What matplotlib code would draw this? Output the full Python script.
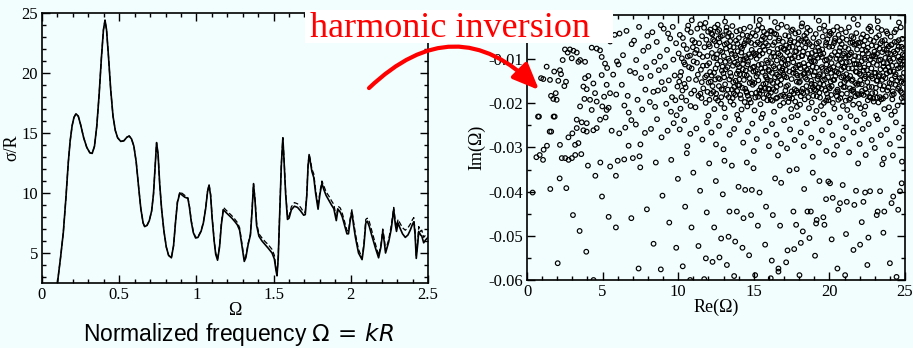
import matplotlib
matplotlib.use("Agg")
import matplotlib.pyplot as plt
from matplotlib.ticker import MultipleLocator, FuncFormatter
from matplotlib.patches import FancyArrowPatch, Rectangle

plt.rcParams["axes.unicode_minus"] = False
plt.rcParams["mathtext.fontset"] = "dejavusans"

BG = "#f2fdfd"
SERIF = "Liberation Serif"

# ---- cross section sigma/R versus normalized frequency ----
omega = [0.1, 0.12, 0.138, 0.155, 0.17, 0.182, 0.195, 0.207, 0.22, 0.235, 0.25, 0.27, 0.29,
         0.31, 0.325, 0.34, 0.355, 0.37, 0.385, 0.398, 0.408, 0.418, 0.43, 0.445, 0.46,
         0.475, 0.49, 0.51, 0.53, 0.55, 0.565, 0.58, 0.595, 0.61, 0.625, 0.64, 0.655, 0.665,
         0.68, 0.695, 0.71, 0.722, 0.732, 0.742, 0.752, 0.762, 0.775, 0.79, 0.805, 0.82,
         0.838, 0.852, 0.865, 0.877, 0.893, 0.91, 0.925, 0.945, 0.955, 0.967, 0.98, 0.995,
         1.01, 1.03, 1.045, 1.06, 1.072, 1.082, 1.092, 1.102, 1.115, 1.125, 1.137, 1.15,
         1.162, 1.175, 1.19, 1.21, 1.23, 1.25, 1.265, 1.28, 1.295, 1.31, 1.32, 1.335, 1.35,
         1.36, 1.37, 1.38, 1.39, 1.405, 1.425, 1.445, 1.465, 1.49, 1.505, 1.515, 1.522, 1.53,
         1.54, 1.55, 1.56, 1.568, 1.578, 1.59, 1.6, 1.615, 1.635, 1.655, 1.675, 1.695, 1.705,
         1.715, 1.723, 1.73, 1.738, 1.748, 1.76, 1.772, 1.788, 1.8, 1.813, 1.825, 1.84, 1.86,
         1.875, 1.89, 1.906, 1.917, 1.932, 1.945, 1.96, 1.975, 1.985, 1.995, 2.007, 2.017,
         2.03, 2.05, 2.073, 2.085, 2.097, 2.107, 2.12, 2.135, 2.16, 2.18, 2.195, 2.207, 2.217,
         2.225, 2.245, 2.262, 2.278, 2.288, 2.296, 2.306, 2.318, 2.335, 2.353, 2.37, 2.385,
         2.398, 2.408, 2.416, 2.424, 2.433, 2.44, 2.452, 2.46, 2.472, 2.485, 2.5]

sigma_exact = [2.5, 4.6, 6.7, 9.6, 12.5, 14.3, 15.6, 16.3, 16.6, 16.4, 15.7, 14.6, 13.8,
               13.35, 13.3, 13.9, 15.6, 18.2, 21.3, 23.6, 24.4, 23.6, 21.5, 18.6, 16.4,
               15.2, 14.6, 14.3, 14.35, 14.65, 14.75, 14.5, 13.9, 12.6, 10.6, 8.7, 7.5, 7.2,
               7.3, 7.7, 8.5, 9.9, 12.0, 14.2, 13.2, 10.8, 8.6, 6.8, 5.5, 4.8,
               4.6, 5.6, 7.6, 9.2, 10.0, 9.8, 9.65, 9.55, 8.8, 7.6, 6.7, 6.25,
               6.3, 6.8, 7.5, 8.7, 10.1, 10.65, 9.8, 7.9, 6.0, 4.9, 4.4, 5.5,
               7.4, 8.6, 8.4, 8.15, 7.9, 7.6, 7.35, 6.9, 5.6, 4.3, 4.6, 5.7, 6.5,
               8.4, 10.75, 9.3, 7.3, 6.4, 6.0, 5.7, 5.4, 5.0, 4.5, 3.6, 3.1, 4.6,
               8.4, 12.3, 14.6, 12.6, 9.9, 7.8, 7.9, 8.6, 8.9, 8.8, 8.5, 8.15, 8.2,
               9.8, 12.2, 13.2, 12.6, 11.8, 11.3, 10.0, 8.65, 9.9, 10.8, 10.3, 9.8, 9.35,
               9.0, 8.7, 7.7, 8.65, 8.4, 8.0, 7.3, 6.6, 6.6, 7.6, 8.45, 7.4,
               6.3, 5.0, 4.45, 5.6, 7.5, 7.65, 7.2, 6.5, 5.4, 4.6, 5.5, 6.8, 5.9,
               5.0, 5.9, 7.0, 8.65, 7.4, 6.8, 7.5, 7.1, 6.6, 6.3, 6.5, 6.9,
               7.35, 7.6, 6.6, 4.55, 5.7, 6.8, 6.5, 6.4, 5.85, 6.1, 6.3]

sigma_approx = [2.5, 4.6, 6.7, 9.6, 12.5, 14.3, 15.6, 16.3, 16.6, 16.4, 15.7, 14.6, 13.8,
                13.35, 13.3, 13.9, 15.6, 18.2, 21.3, 23.6, 24.4, 23.6, 21.5, 18.6, 16.4,
                15.2, 14.6, 14.3, 14.35, 14.65, 14.75, 14.5, 13.9, 12.6, 10.6, 8.7, 7.5, 7.2,
                7.3, 7.7, 8.5, 9.9, 12.0, 14.2, 13.2, 10.8, 8.6, 6.8, 5.5, 4.8,
                4.6, 5.6, 7.6, 9.3, 10.1, 9.95, 9.8, 9.6, 8.9, 7.7, 6.8, 6.3,
                6.35, 6.85, 7.55, 8.75, 10.15, 10.7, 9.9, 8.0, 6.1, 5.0, 4.5, 5.6,
                7.6, 8.8, 8.6, 8.35, 8.1, 7.8, 7.55, 7.1, 5.8, 4.4, 4.7, 5.8, 6.6,
                8.5, 10.8, 9.5, 7.5, 6.6, 6.25, 5.95, 5.7, 5.3, 4.8, 3.8, 3.2, 4.7,
                8.5, 12.4, 14.6, 12.8, 10.1, 8.0, 8.1, 8.85, 9.2, 9.1, 8.8, 8.4, 8.4,
                9.9, 12.3, 13.2, 12.8, 12.0, 11.6, 10.3, 8.9, 10.1, 11.0, 10.6, 10.1, 9.7,
                9.35, 9.05, 8.0, 8.9, 8.75, 8.3, 7.6, 6.9, 6.8, 7.8, 8.6, 7.7,
                6.6, 5.3, 4.6, 5.8, 7.8, 7.9, 7.6, 6.9, 5.7, 4.8, 5.7, 7.0, 6.2,
                5.2, 6.1, 7.3, 8.8, 7.7, 7.2, 7.8, 7.5, 7.1, 6.9, 7.1, 7.4,
                7.75, 7.95, 6.9, 4.8, 5.9, 7.2, 6.8, 6.9, 6.3, 6.5, 6.6]

# ---- resonance poles in the complex frequency plane (Re, Im) ----
poles_sparse = [
    (0.37, -0.0402), (0.73, -0.023), (0.62, -0.0322), (0.84, -0.0317), (1.1, -0.0305),
    (1.32, -0.0296), (1.06, -0.0328), (1.54, -0.0394), (1.5, -0.0264), (1.76, -0.023),
    (2.03, -0.0562), (2.16, -0.037), (2.6, -0.0392), (2.3, -0.0324), (2.53, -0.0324),
    (2.75, -0.0328), (2.97, -0.0324), (3.19, -0.0317), (3.59, -0.0315), (3.04, -0.0453),
    (3.48, -0.0489), (3.92, -0.0536), (4.03, -0.0341), (4.52, -0.0364), (4.85, -0.0334),
    (4.4, -0.06), (4.96, -0.0411), (5.4, -0.0457), (5.5, -0.0343), (5.88, -0.0364),
    (5.88, -0.0481), (6.0, -0.033), (6.43, -0.0327), (6.72, -0.0296), (6.9, -0.046),
    (7.0, -0.0324), (7.38, -0.0574), (7.49, -0.0345), (7.44, -0.032), (7.93, -0.044),
    (8.37, -0.0518), (8.52, -0.0334), (8.85, -0.0576), (8.96, -0.0409), (9.41, -0.047),
    (9.54, -0.0328), (9.87, -0.0527), (9.98, -0.0371), (10.3, -0.0569), (10.46, -0.0434),
    (10.57, -0.0313), (10.88, -0.0481), (11.0, -0.0357), (10.79, -0.06), (11.34, -0.0523),
    (11.45, -0.0398), (11.72, -0.0598), (11.83, -0.0551), (11.89, -0.0447), (12.05, -0.0336),
    (12.27, -0.0559), (12.38, -0.0481), (12.49, -0.0376), (12.73, -0.0549), (12.84, -0.0506),
    (12.95, -0.0406), (13.06, -0.033), (13.22, -0.0566), (13.33, -0.0502), (13.39, -0.0445),
    (13.55, -0.0341), (13.77, -0.0513), (13.7, -0.0591), (13.88, -0.0445), (13.99, -0.0389),
    (14.25, -0.0527), (14.32, -0.046), (14.43, -0.0396), (14.54, -0.0334), (14.69, -0.0544),
    (14.82, -0.0453), (14.87, -0.0396), (14.98, -0.0347), (15.09, -0.0589), (15.27, -0.0477),
    (15.38, -0.0402), (15.75, -0.052), (15.81, -0.0434), (16.12, -0.0596), (16.19, -0.0556),
    (16.26, -0.0453), (16.41, -0.037), (16.63, -0.0574), (16.63, -0.0581), (16.74, -0.0477),
    (16.81, -0.038), (17.14, -0.056), (17.23, -0.0533), (17.36, -0.0352), (17.62, -0.0445),
    (17.67, -0.053), (17.8, -0.0475), (17.84, -0.0349), (18.02, -0.0589), (18.11, -0.0516),
    (18.24, -0.049), (18.33, -0.0394), (18.55, -0.0445), (18.68, -0.0505), (18.77, -0.0445),
    (18.9, -0.0357), (19.05, -0.0545), (19.12, -0.0472), (19.16, -0.0464), (19.34, -0.0376),
    (19.6, -0.0458), (19.67, -0.0475), (19.78, -0.0417), (19.93, -0.0377), (20.04, -0.0381),
    (20.15, -0.0508), (20.22, -0.0414), (20.53, -0.0574), (20.59, -0.0441), (20.7, -0.0426),
    (20.88, -0.0385), (21.04, -0.0589), (21.1, -0.0496), (21.15, -0.0423), (21.59, -0.0532),
    (21.65, -0.043), (21.76, -0.0398), (22.03, -0.052), (22.14, -0.0469), (22.25, -0.0423),
    (22.36, -0.0402), (22.58, -0.0504), (22.51, -0.0566), (22.69, -0.0399), (23.13, -0.0453),
    (23.19, -0.0445), (23.35, -0.0399), (23.57, -0.0493), (23.63, -0.0445), (24.0, -0.0562),
    (24.11, -0.0426), (24.22, -0.0411), (24.44, -0.0593), (24.55, -0.0441), (24.67, -0.0399),
    (24.78, -0.0381),
]

poles_lowfreq = [
    (0.93, -0.0143), (1.08, -0.0145), (1.3, -0.0117), (1.52, -0.0147), (1.59, -0.0183),
    (1.74, -0.019), (1.9, -0.0177), (1.96, -0.0192), (1.8, -0.0128), (2.07, -0.0149),
    (2.18, -0.0125), (2.25, -0.0134), (2.47, -0.0161), (2.58, -0.0151), (2.36, -0.0102),
    (2.51, -0.0078), (2.69, -0.0085), (2.84, -0.0078), (2.96, -0.0098), (3.07, -0.0081),
    (3.29, -0.0085), (3.51, -0.0102), (3.4, -0.0106), (3.84, -0.0106), (4.06, -0.0138),
    (3.84, -0.0143), (3.73, -0.0162), (3.95, -0.0168), (4.17, -0.0192), (3.51, -0.0207),
    (3.8, -0.019), (4.28, -0.0074), (4.61, -0.0076), (4.83, -0.008), (4.94, -0.0095),
    (5.16, -0.011), (4.39, -0.0155), (4.5, -0.0177), (4.28, -0.0215), (4.94, -0.0136),
    (5.27, -0.0158), (5.49, -0.0177), (4.61, -0.0196), (4.98, -0.0207), (5.27, -0.0215),
    (4.83, -0.0237), (3.95, -0.0245), (3.29, -0.0237), (3.62, -0.0243), (3.73, -0.0261),
    (3.95, -0.0264), (4.39, -0.0261), (4.61, -0.0256), (2.74, -0.0277), (3.0, -0.0268),
    (3.29, -0.0256), (3.18, -0.0294), (3.4, -0.029), (2.18, -0.0294), (1.83, -0.023),
    (0.79, -0.023), (1.6, -0.0264), (5.2, -0.003), (5.5, -0.006), (5.8, -0.0045),
    (5.3, -0.012), (5.7, -0.0135), (5.9, -0.018), (5.4, -0.021), (5.1, -0.0185),
    (5.95, -0.0105),
]

poles_band_a = [
    (6.12, -0.0042), (6.35, -0.0091), (6.58, -0.0036), (6.81, -0.0127), (6.27, -0.0158),
    (6.66, -0.0183), (6.92, -0.0066), (6.44, -0.0205), (6.05, -0.0112), (6.73, -0.0221),
    (7.08, -0.0058), (7.22, -0.0102), (7.41, -0.0027), (7.55, -0.0143), (7.69, -0.0081),
    (7.83, -0.0169), (7.96, -0.0047), (7.31, -0.0192), (7.62, -0.0214), (7.15, -0.0131),
    (7.88, -0.0118), (8.03, -0.0072), (8.17, -0.0138), (8.29, -0.0039), (8.42, -0.0106),
    (8.58, -0.0061), (8.66, -0.0171), (8.79, -0.0094), (8.91, -0.0152), (8.12, -0.0197),
    (8.47, -0.0208), (8.85, -0.0023), (8.36, -0.0174), (8.72, -0.0125), (9.04, -0.0031),
    (9.13, -0.0117), (9.26, -0.0079), (9.38, -0.0148), (9.47, -0.0053), (9.59, -0.0186),
    (9.68, -0.0101), (9.77, -0.0137), (9.86, -0.0064), (9.95, -0.0162), (9.21, -0.0201),
    (9.52, -0.0219), (9.81, -0.0193), (9.33, -0.0042), (9.64, -0.0027), (9.09, -0.0168),
    (10.03, -0.0087), (10.11, -0.0045), (10.19, -0.0129), (10.28, -0.0171), (10.36, -0.0068),
    (10.45, -0.0112), (10.53, -0.0194), (10.61, -0.0033), (10.7, -0.0145), (10.78, -0.0092),
    (10.86, -0.0178), (10.94, -0.0057), (10.15, -0.0212), (10.41, -0.0156), (10.66, -0.0024),
    (10.89, -0.0121), (10.24, -0.0098), (10.57, -0.0077), (10.82, -0.0206), (10.07, -0.0151),
    (11.02, -0.0105), (11.1, -0.0062), (11.18, -0.0147), (11.26, -0.0031), (11.34, -0.0183),
    (11.42, -0.0089), (11.5, -0.0124), (11.58, -0.0048), (11.66, -0.0166), (11.74, -0.0073),
    (11.82, -0.0199), (11.9, -0.0114), (11.98, -0.0038), (11.14, -0.0209), (11.3, -0.0135),
    (11.46, -0.0021), (11.62, -0.0095), (11.78, -0.0141), (11.94, -0.0174), (11.22, -0.0079),
    (11.54, -0.0188), (11.86, -0.0056),
    (12.03, -0.0066), (12.11, -0.0129), (12.19, -0.0041), (12.27, -0.0161), (12.35, -0.0097),
    (12.43, -0.0028), (12.51, -0.0178), (12.59, -0.0112), (12.67, -0.0053), (12.75, -0.0145),
    (12.83, -0.0201), (12.91, -0.0084), (12.99, -0.0132), (12.07, -0.0192), (12.23, -0.0086),
    (12.39, -0.0213), (12.55, -0.0069), (12.71, -0.0034), (12.87, -0.0168), (12.15, -0.0151),
    (12.47, -0.0121), (12.63, -0.0194), (12.79, -0.0104), (12.95, -0.0046),
    (13.02, -0.0093), (13.1, -0.0157), (13.18, -0.0036), (13.26, -0.0118), (13.34, -0.0186),
    (13.42, -0.0071), (13.5, -0.0139), (13.58, -0.0025), (13.66, -0.0203), (13.74, -0.0108),
    (13.82, -0.0058), (13.9, -0.0172), (13.98, -0.0127), (13.06, -0.0211), (13.22, -0.0064),
    (13.38, -0.0146), (13.54, -0.0088), (13.7, -0.0163), (13.86, -0.0037), (13.14, -0.0123),
    (13.3, -0.0049), (13.46, -0.0196), (13.62, -0.0115), (13.78, -0.0181), (13.94, -0.0082),
]

poles_band_b = [
    (14.01, -0.0052), (14.08, -0.0134), (14.15, -0.0189), (14.22, -0.0076), (14.29, -0.0111),
    (14.36, -0.0031), (14.43, -0.0167), (14.5, -0.0098), (14.57, -0.0207), (14.64, -0.0059),
    (14.71, -0.0143), (14.78, -0.0122), (14.85, -0.0178), (14.92, -0.0041), (14.99, -0.0086),
    (14.05, -0.0159), (14.19, -0.0214), (14.33, -0.0069), (14.47, -0.0126), (14.61, -0.0183),
    (14.75, -0.0027), (14.89, -0.0152), (14.12, -0.0101), (14.26, -0.0045), (14.4, -0.0197),
    (14.54, -0.0137), (14.68, -0.0089), (14.82, -0.0063),
    (15.02, -0.0117), (15.09, -0.0067), (15.16, -0.0176), (15.23, -0.0034), (15.3, -0.0148),
    (15.37, -0.0092), (15.44, -0.0202), (15.51, -0.0056), (15.58, -0.0129), (15.65, -0.0188),
    (15.72, -0.0079), (15.79, -0.0155), (15.86, -0.0043), (15.93, -0.0108), (15.05, -0.0216),
    (15.19, -0.0099), (15.33, -0.0023), (15.47, -0.0164), (15.61, -0.0071), (15.75, -0.0119),
    (15.89, -0.0193), (15.12, -0.0047), (15.26, -0.0133), (15.4, -0.0081), (15.54, -0.0171),
    (15.68, -0.0038), (15.82, -0.0141), (15.96, -0.0167),
    (16.03, -0.0083), (16.1, -0.0149), (16.17, -0.0037), (16.24, -0.0194), (16.31, -0.0116),
    (16.38, -0.0062), (16.45, -0.0172), (16.52, -0.0103), (16.59, -0.0029), (16.66, -0.0139),
    (16.73, -0.0205), (16.8, -0.0074), (16.87, -0.0126), (16.94, -0.0181), (16.06, -0.0051),
    (16.2, -0.0131), (16.34, -0.0219), (16.48, -0.0044), (16.62, -0.0087), (16.76, -0.0158),
    (16.9, -0.0098), (16.13, -0.0176), (16.27, -0.0068), (16.41, -0.0121), (16.55, -0.0187),
    (16.69, -0.0053), (16.83, -0.0022), (16.97, -0.0135),
    (17.01, -0.0102), (17.08, -0.0046), (17.15, -0.0162), (17.22, -0.0084), (17.29, -0.0197),
    (17.36, -0.0128), (17.43, -0.0057), (17.5, -0.0145), (17.57, -0.0033), (17.64, -0.0178),
    (17.71, -0.0094), (17.78, -0.0119), (17.85, -0.0208), (17.92, -0.0066), (17.99, -0.0153),
    (17.05, -0.0185), (17.19, -0.0027), (17.33, -0.0073), (17.47, -0.0213), (17.61, -0.0107),
    (17.75, -0.0042), (17.89, -0.0137), (17.12, -0.0124), (17.26, -0.0159), (17.4, -0.0091),
    (17.54, -0.0189), (17.68, -0.0061), (17.82, -0.0171), (17.96, -0.0039),
    (18.02, -0.0076), (18.09, -0.0138), (18.16, -0.0026), (18.23, -0.0167), (18.3, -0.0109),
    (18.37, -0.0191), (18.44, -0.0054), (18.51, -0.0124), (18.58, -0.0088), (18.65, -0.0211),
    (18.72, -0.0035), (18.79, -0.0149), (18.86, -0.0071), (18.93, -0.0183), (18.06, -0.0203),
    (18.2, -0.0093), (18.34, -0.0047), (18.48, -0.0161), (18.62, -0.0131), (18.76, -0.0096),
    (18.9, -0.0117), (18.13, -0.0058), (18.27, -0.0177), (18.41, -0.0142), (18.55, -0.0029),
    (18.69, -0.0066), (18.83, -0.0198), (18.97, -0.0104),
]

poles_band_c = [
    (19.03, -0.0129), (19.1, -0.0043), (19.17, -0.0184), (19.24, -0.0097), (19.31, -0.0061),
    (19.38, -0.0156), (19.45, -0.0206), (19.52, -0.0078), (19.59, -0.0136), (19.66, -0.0024),
    (19.73, -0.0171), (19.8, -0.0112), (19.87, -0.0055), (19.94, -0.0193), (19.07, -0.0082),
    (19.21, -0.0145), (19.35, -0.0031), (19.49, -0.0118), (19.63, -0.0199), (19.77, -0.0068),
    (19.91, -0.0141), (19.14, -0.0217), (19.28, -0.0164), (19.42, -0.0089), (19.56, -0.0049),
    (19.7, -0.0103), (19.84, -0.0178), (19.98, -0.0072),
    (20.02, -0.0038), (20.09, -0.0151), (20.16, -0.0091), (20.23, -0.0199), (20.3, -0.0064),
    (20.37, -0.0127), (20.44, -0.0174), (20.51, -0.0027), (20.58, -0.0113), (20.65, -0.0082),
    (20.72, -0.0188), (20.79, -0.0141), (20.86, -0.0052), (20.93, -0.0163), (20.05, -0.0122),
    (20.19, -0.0071), (20.33, -0.0212), (20.47, -0.0099), (20.61, -0.0045), (20.75, -0.0157),
    (20.89, -0.0206), (20.12, -0.0181), (20.26, -0.0035), (20.4, -0.0138), (20.54, -0.0169),
    (20.68, -0.0059), (20.82, -0.0107), (20.96, -0.0087),
    (21.01, -0.0117), (21.08, -0.0194), (21.15, -0.0056), (21.22, -0.0143), (21.29, -0.0028),
    (21.36, -0.0166), (21.43, -0.0085), (21.5, -0.0121), (21.57, -0.0203), (21.64, -0.0067),
    (21.71, -0.0154), (21.78, -0.0041), (21.85, -0.0179), (21.92, -0.0095), (21.99, -0.0133),
    (21.04, -0.0073), (21.18, -0.0215), (21.32, -0.0106), (21.46, -0.0048), (21.6, -0.0174),
    (21.74, -0.0128), (21.88, -0.0022), (21.11, -0.0147), (21.25, -0.0092), (21.39, -0.0189),
    (21.53, -0.0062), (21.67, -0.0111), (21.81, -0.0158), (21.95, -0.0201),
    (22.02, -0.0063), (22.09, -0.0136), (22.16, -0.0172), (22.23, -0.0044), (22.3, -0.0119),
    (22.37, -0.0207), (22.44, -0.0081), (22.51, -0.0152), (22.58, -0.0031), (22.65, -0.0186),
    (22.72, -0.0101), (22.79, -0.0069), (22.86, -0.0144), (22.93, -0.0196), (22.06, -0.0211),
    (22.2, -0.0088), (22.34, -0.0058), (22.48, -0.0125), (22.62, -0.0163), (22.76, -0.0037),
    (22.9, -0.0108), (22.13, -0.0105), (22.27, -0.0181), (22.41, -0.0139), (22.55, -0.0074),
    (22.69, -0.0026), (22.83, -0.0177), (22.97, -0.0131),
    (23.03, -0.0094), (23.1, -0.0051), (23.17, -0.0148), (23.24, -0.0198), (23.31, -0.0076),
    (23.38, -0.0123), (23.45, -0.0034), (23.52, -0.0169), (23.59, -0.0109), (23.66, -0.0057),
    (23.73, -0.0184), (23.8, -0.0132), (23.87, -0.0086), (23.94, -0.0209), (23.07, -0.0165),
    (23.21, -0.0029), (23.35, -0.0159), (23.49, -0.0084), (23.63, -0.0213), (23.77, -0.0067),
    (23.91, -0.0118), (23.14, -0.0113), (23.28, -0.0046), (23.42, -0.0191), (23.56, -0.0139),
    (23.7, -0.0097), (23.84, -0.0042), (23.98, -0.0154),
    (24.02, -0.0127), (24.09, -0.0068), (24.16, -0.0191), (24.23, -0.0099), (24.3, -0.0039),
    (24.37, -0.0158), (24.44, -0.0114), (24.51, -0.0205), (24.58, -0.0072), (24.65, -0.0143),
    (24.72, -0.0028), (24.79, -0.0176), (24.86, -0.0089), (24.93, -0.0131), (24.05, -0.0049),
    (24.19, -0.0173), (24.33, -0.0218), (24.47, -0.0061), (24.61, -0.0104), (24.75, -0.0151),
    (24.89, -0.0197), (24.12, -0.0146), (24.26, -0.0083), (24.4, -0.0033), (24.54, -0.0167),
    (24.68, -0.0119), (24.82, -0.0054), (24.96, -0.0092),
]

poles_band_d = [
    (10.13, -0.0138), (10.31, -0.0052), (10.49, -0.0164), (10.72, -0.0118), (10.97, -0.0073),
    (10.22, -0.0186), (10.63, -0.0094), (10.84, -0.0039), (10.38, -0.0107),
    (11.06, -0.0171), (11.24, -0.0108), (11.38, -0.0064), (11.56, -0.0152), (11.71, -0.0029),
    (11.88, -0.0137), (11.12, -0.0086), (11.47, -0.0178), (11.64, -0.0115), (11.93, -0.0093),
    (12.05, -0.0109), (12.17, -0.0178), (12.31, -0.0056), (12.45, -0.0146), (12.57, -0.0089),
    (12.69, -0.0161), (12.81, -0.0049), (12.93, -0.0117), (12.13, -0.0033), (12.37, -0.0131),
    (12.61, -0.0022), (12.85, -0.0186),
    (13.04, -0.0141), (13.16, -0.0076), (13.28, -0.0169), (13.4, -0.0104), (13.52, -0.0047),
    (13.64, -0.0152), (13.76, -0.0091), (13.88, -0.0133), (13.2, -0.0028), (13.44, -0.0059),
    (13.68, -0.0177), (13.92, -0.0065),
    (14.03, -0.0118), (14.14, -0.0072), (14.25, -0.0165), (14.37, -0.0135), (14.48, -0.0057),
    (14.59, -0.0112), (14.7, -0.0191), (14.81, -0.0095), (14.93, -0.0158), (14.09, -0.0034),
    (14.31, -0.0101), (14.53, -0.0176), (14.76, -0.0049), (14.97, -0.0128),
    (15.04, -0.0154), (15.15, -0.0088), (15.26, -0.0062), (15.38, -0.0178), (15.49, -0.0121),
    (15.6, -0.0049), (15.71, -0.0166), (15.83, -0.0103), (15.94, -0.0069), (15.1, -0.0187),
    (15.32, -0.0113), (15.55, -0.0029), (15.77, -0.0137), (15.99, -0.0182),
    (16.02, -0.0127), (16.14, -0.0095), (16.25, -0.0154), (16.36, -0.0042), (16.47, -0.0189),
    (16.58, -0.0077), (16.7, -0.0118), (16.81, -0.0146), (16.92, -0.0061), (16.08, -0.0036),
    (16.3, -0.0168), (16.53, -0.0135), (16.75, -0.0091), (16.96, -0.0199),
    (17.03, -0.0139), (17.14, -0.0069), (17.25, -0.0111), (17.37, -0.0182), (17.48, -0.0036),
    (17.59, -0.0131), (17.7, -0.0168), (17.81, -0.0082), (17.93, -0.0114), (17.09, -0.0171),
    (17.31, -0.0048), (17.52, -0.0098), (17.74, -0.0196), (17.97, -0.0054),
    (18.04, -0.0113), (18.15, -0.0173), (18.26, -0.0083), (18.37, -0.0131), (18.49, -0.0041),
    (18.6, -0.0186), (18.71, -0.0099), (18.82, -0.0156), (18.94, -0.0052), (18.1, -0.0121),
    (18.32, -0.0061), (18.54, -0.0174), (18.77, -0.0127), (18.99, -0.0169),
    (19.05, -0.0106), (19.16, -0.0064), (19.27, -0.0139), (19.38, -0.0187), (19.5, -0.0095),
    (19.61, -0.0158), (19.72, -0.0036), (19.83, -0.0127), (19.95, -0.0163), (19.11, -0.0171),
    (19.33, -0.0081), (19.55, -0.0122), (19.78, -0.0194), (19.99, -0.0046),
    (20.04, -0.0097), (20.15, -0.0161), (20.26, -0.0118), (20.38, -0.0053), (20.49, -0.0184),
    (20.6, -0.0132), (20.71, -0.0074), (20.82, -0.0179), (20.94, -0.0119), (20.1, -0.0042),
    (20.32, -0.0147), (20.55, -0.0091), (20.77, -0.0033), (20.98, -0.0152),
    (21.03, -0.0163), (21.14, -0.0107), (21.26, -0.0077), (21.37, -0.0138), (21.48, -0.0171),
    (21.59, -0.0052), (21.7, -0.0093), (21.81, -0.0129), (21.93, -0.0181), (21.09, -0.0039),
    (21.31, -0.0192), (21.53, -0.0146), (21.76, -0.0066), (21.97, -0.0112),
    (22.04, -0.0148), (22.15, -0.0079), (22.26, -0.0126), (22.38, -0.0168), (22.49, -0.0049),
    (22.6, -0.0112), (22.71, -0.0187), (22.82, -0.0094), (22.94, -0.0059), (22.1, -0.0179),
    (22.32, -0.0097), (22.54, -0.0193), (22.77, -0.0139), (22.98, -0.0083),
    (23.05, -0.0131), (23.16, -0.0187), (23.27, -0.0103), (23.38, -0.0064), (23.5, -0.0147),
    (23.61, -0.0078), (23.72, -0.0124), (23.83, -0.0171), (23.95, -0.0099), (23.11, -0.0071),
    (23.33, -0.0136), (23.55, -0.0189), (23.77, -0.0037), (23.99, -0.0129),
    (24.04, -0.0088), (24.15, -0.0115), (24.26, -0.0179), (24.38, -0.0134), (24.49, -0.0079),
    (24.6, -0.0163), (24.71, -0.0101), (24.82, -0.0141), (24.94, -0.0186), (24.1, -0.0156),
    (24.32, -0.0061), (24.54, -0.0121), (24.77, -0.0072), (24.99, -0.0112),
]

poles_band_e = [
    (12.09, -0.0071), (12.21, -0.0137), (12.33, -0.0174), (12.41, -0.0059), (12.53, -0.0098),
    (12.65, -0.0143), (12.77, -0.0081), (12.89, -0.0126), (12.97, -0.0169), (12.25, -0.0044),
    (12.49, -0.0189), (12.73, -0.0062), (12.01, -0.0153), (12.6, -0.0038),
    (13.08, -0.0067), (13.2, -0.0181), (13.32, -0.0099), (13.44, -0.0131), (13.56, -0.0169),
    (13.66, -0.0073), (13.8, -0.0149), (13.92, -0.0112), (13.12, -0.0106), (13.36, -0.0041),
    (13.6, -0.0188), (13.84, -0.0096), (13.96, -0.0159), (13.48, -0.0081),
    (14.04, -0.0146), (14.17, -0.0085), (14.28, -0.0123), (14.39, -0.0064), (14.51, -0.0173),
    (14.62, -0.0106), (14.73, -0.0154), (14.86, -0.0079), (14.95, -0.0119), (14.11, -0.0181),
    (14.34, -0.0147), (14.58, -0.0047), (14.8, -0.0198), (14.44, -0.0093),
    (15.06, -0.0091), (15.18, -0.0139), (15.29, -0.0185), (15.41, -0.0066), (15.52, -0.0111),
    (15.63, -0.0157), (15.74, -0.0052), (15.85, -0.0179), (15.97, -0.0124), (15.13, -0.0127),
    (15.35, -0.0171), (15.57, -0.0087), (15.8, -0.0064), (15.92, -0.0146),
    (16.04, -0.0168), (16.16, -0.0109), (16.28, -0.0086), (16.4, -0.0141), (16.51, -0.0163),
    (16.63, -0.0058), (16.74, -0.0129), (16.85, -0.0108), (16.98, -0.0076), (16.12, -0.0192),
    (16.35, -0.0094), (16.57, -0.0152), (16.79, -0.0183), (16.91, -0.0121),
    (17.04, -0.0079), (17.16, -0.0141), (17.27, -0.0101), (17.39, -0.0062), (17.5, -0.0173),
    (17.62, -0.0123), (17.73, -0.0083), (17.84, -0.0151), (17.95, -0.0096), (17.1, -0.0113),
    (17.34, -0.0188), (17.56, -0.0072), (17.79, -0.0133), (17.9, -0.0176),
    (18.05, -0.0151), (18.18, -0.0092), (18.29, -0.0134), (18.4, -0.0074), (18.52, -0.0146),
    (18.63, -0.0112), (18.74, -0.0171), (18.85, -0.0086), (18.96, -0.0137), (18.11, -0.0184),
    (18.35, -0.0118), (18.57, -0.0061), (18.8, -0.0105), (18.91, -0.0163),
    (19.04, -0.0158), (19.15, -0.0119), (19.26, -0.0074), (19.37, -0.0134), (19.48, -0.0167),
    (19.6, -0.0087), (19.71, -0.0146), (19.82, -0.0101), (19.93, -0.0124), (19.12, -0.0091),
    (19.34, -0.0176), (19.57, -0.0148), (19.79, -0.0062), (19.89, -0.0187),
    (20.03, -0.0166), (20.14, -0.0109), (20.25, -0.0147), (20.36, -0.0084), (20.48, -0.0129),
    (20.59, -0.0192), (20.7, -0.0101), (20.81, -0.0066), (20.92, -0.0138), (20.11, -0.0131),
    (20.34, -0.0059), (20.56, -0.0173), (20.78, -0.0124), (20.9, -0.0091),
    (21.05, -0.0096), (21.16, -0.0178), (21.27, -0.0121), (21.38, -0.0063), (21.49, -0.0149),
    (21.61, -0.0102), (21.72, -0.0184), (21.83, -0.0078), (21.94, -0.0156), (21.12, -0.0134),
    (21.35, -0.0089), (21.57, -0.0169), (21.79, -0.0111), (21.9, -0.0063),
    (22.03, -0.0118), (22.14, -0.0157), (22.25, -0.0069), (22.36, -0.0101), (22.47, -0.0176),
    (22.59, -0.0135), (22.7, -0.0056), (22.81, -0.0163), (22.92, -0.0091), (22.11, -0.0052),
    (22.33, -0.0144), (22.56, -0.0087), (22.78, -0.0121), (22.89, -0.0189),
    (23.04, -0.0176), (23.15, -0.0088), (23.26, -0.0139), (23.37, -0.0101), (23.48, -0.0059),
    (23.6, -0.0161), (23.71, -0.0143), (23.82, -0.0109), (23.93, -0.0071), (23.12, -0.0149),
    (23.34, -0.0186), (23.57, -0.0117), (23.79, -0.0079), (23.9, -0.0164),
    (24.03, -0.0104), (24.14, -0.0181), (24.25, -0.0128), (24.36, -0.0087), (24.48, -0.0149),
    (24.59, -0.0057), (24.7, -0.0172), (24.81, -0.0113), (24.92, -0.0154), (24.11, -0.0067),
    (24.34, -0.0139), (24.56, -0.0094), (24.78, -0.0188), (24.9, -0.0076),
]

poles_fringe = [
    (5.2, -0.0232), (5.6, -0.0262), (6.1, -0.0268), (6.5, -0.0255), (6.9, -0.0238),
    (7.2, -0.0248), (7.8, -0.0267), (7.5, -0.0293), (8.2, -0.0258), (8.6, -0.0236),
    (8.9, -0.0277), (9.3, -0.0262), (9.7, -0.0245), (10.1, -0.0259), (10.4, -0.0238),
    (10.8, -0.0269), (11.2, -0.0257), (11.6, -0.0282), (11.9, -0.0243), (12.2, -0.0266),
    (12.5, -0.0293), (12.7, -0.0251), (13.1, -0.0232), (13.4, -0.0271), (13.7, -0.0258),
    (14.0, -0.0237), (14.3, -0.0289), (14.6, -0.0264), (14.9, -0.0246), (15.2, -0.0281),
    (15.5, -0.0233), (15.8, -0.0262), (16.0, -0.0297), (16.2, -0.0247), (16.5, -0.0271),
    (16.8, -0.0291), (17.0, -0.0238), (17.2, -0.0302), (17.4, -0.0259), (17.7, -0.0283),
    (17.9, -0.0227), (18.1, -0.0266), (18.3, -0.0297), (18.5, -0.0245), (18.8, -0.0278),
    (19.0, -0.0234), (19.3, -0.0289), (19.5, -0.0261), (19.8, -0.0308), (20.0, -0.0243),
    (20.2, -0.0272), (20.5, -0.0296), (20.7, -0.0232), (20.9, -0.0281), (21.1, -0.0254),
    (21.3, -0.0311), (21.6, -0.0266), (21.8, -0.0239), (22.0, -0.0292), (22.2, -0.0258),
    (22.4, -0.0317), (22.6, -0.0247), (22.8, -0.0283), (23.0, -0.0301), (23.2, -0.0236),
    (23.4, -0.0272), (23.6, -0.0325), (23.8, -0.0259), (24.0, -0.0292), (24.2, -0.0318),
    (24.4, -0.0243), (24.6, -0.0278), (24.8, -0.0332), (24.9, -0.0262), (19.6, -0.0225),
    (21.4, -0.0229), (23.1, -0.0228), (17.5, -0.0231), (15.6, -0.0224), (13.9, -0.0226),
    (12.0, -0.0228), (9.9, -0.0227), (22.3, -0.0224), (24.1, -0.0226), (16.6, -0.0318),
    (18.9, -0.0321), (20.3, -0.0316), (21.9, -0.0336), (23.5, -0.0338), (15.0, -0.0308),
    (13.0, -0.0304), (10.6, -0.0297),
    (10.9, -0.0012), (13.1, -0.0015), (15.4, -0.0011), (16.4, -0.0016), (19.3, -0.0013),
    (21.6, -0.0009), (23.2, -0.0014), (24.6, -0.0017), (11.8, -0.0018), (18.2, -0.0019),
]

W, H = 913, 348
fig = plt.figure(figsize=(W / 100, H / 100), dpi=100, facecolor=BG)


def fig_box(x0, y0, x1, y1):
    """Pixel box (top-left origin) -> figure-fraction rect."""
    return [x0 / W, 1 - y1 / H, (x1 - x0) / W, (y1 - y0) / H]


def style_axes(ax):
    ax.set_facecolor(BG)
    for s in ax.spines.values():
        s.set_linewidth(1.2)
    ax.tick_params(which="both", direction="in", top=True, right=True,
                   width=1.0, labelsize=12, pad=3)
    ax.tick_params(which="major", length=5.5)
    ax.tick_params(which="minor", length=3)
    for lab in ax.get_xticklabels() + ax.get_yticklabels():
        lab.set_fontfamily(SERIF)


# left panel: cross section
ax1 = fig.add_axes(fig_box(42, 13, 428, 283))
ax1.plot(omega, sigma_approx, color="black", lw=0.9, ls=(0, (4, 2)))
ax1.plot(omega, sigma_exact, color="black", lw=1.2)
ax1.set_xlim(0, 2.5)
ax1.set_ylim(2.5, 25)
ax1.xaxis.set_major_locator(MultipleLocator(0.5))
ax1.xaxis.set_minor_locator(MultipleLocator(0.1))
ax1.yaxis.set_major_locator(MultipleLocator(5))
ax1.yaxis.set_minor_locator(MultipleLocator(1))
ax1.xaxis.set_major_formatter(FuncFormatter(lambda v, p: f"{v:g}"))
style_axes(ax1)
ax1.set_xlabel("Ω", fontfamily=SERIF, fontsize=13)
ax1.set_ylabel("σ/R", fontfamily=SERIF, fontsize=13)
ax1.xaxis.set_label_coords(0.5, -0.07)
ax1.yaxis.set_label_coords(-0.055, 0.5)

# right panel: poles
all_poles = (poles_sparse + poles_lowfreq + poles_band_a + poles_band_b
             + poles_band_c + poles_band_d + poles_band_e + poles_fringe)
re_vals = [p[0] for p in all_poles]
im_vals = [p[1] for p in all_poles]

ax2 = fig.add_axes(fig_box(527, 15, 905, 280))
ax2.scatter(re_vals, im_vals, s=11, facecolors="none", edgecolors="black", linewidths=0.85)
ax2.set_xlim(0, 25)
ax2.set_ylim(-0.06, 0)
ax2.xaxis.set_major_locator(MultipleLocator(5))
ax2.xaxis.set_minor_locator(MultipleLocator(1))
ax2.yaxis.set_major_locator(MultipleLocator(0.01))
ax2.yaxis.set_minor_locator(MultipleLocator(0.005))
# the zero label sits under the annotation box, so it is left blank
ax2.yaxis.set_major_formatter(FuncFormatter(lambda v, p: f"{v:g}" if abs(v) > 1e-9 else ""))
style_axes(ax2)
ax2.set_xlabel("Re(Ω)", fontfamily=SERIF, fontsize=13)
ax2.set_ylabel("Im(Ω)", fontfamily=SERIF, fontsize=13)
ax2.xaxis.set_label_coords(0.5, -0.072)
ax2.yaxis.set_label_coords(-0.11, 0.5)

# caption under the left panel
fig.text(238 / W, 1 - 334 / H, r"Normalized frequency $\Omega\, =\, kR$",
         fontfamily="Liberation Sans", fontsize=16.5, ha="center", va="center")

# red annotation: label box and curved arrow
fig.patches.append(Rectangle((305 / W, 1 - 43 / H), (613 - 305) / W, 33 / H,
                             transform=fig.transFigure, facecolor="white",
                             edgecolor="none", zorder=5))
fig.text(450 / W, 1 - 37 / H, "harmonic inversion", color="red", fontfamily=SERIF,
         fontsize=26, ha="center", va="baseline", zorder=6)
arrow = FancyArrowPatch((367 / W, 1 - 90 / H), (541 / W, 1 - 92 / H),
                        transform=fig.transFigure, connectionstyle="arc3,rad=-0.5",
                        arrowstyle="-|>,head_length=1.0,head_width=0.42",
                        mutation_scale=16, color="red", lw=3, zorder=4)
fig.patches.append(arrow)

fig.savefig("out.png", dpi=100, facecolor=BG)
